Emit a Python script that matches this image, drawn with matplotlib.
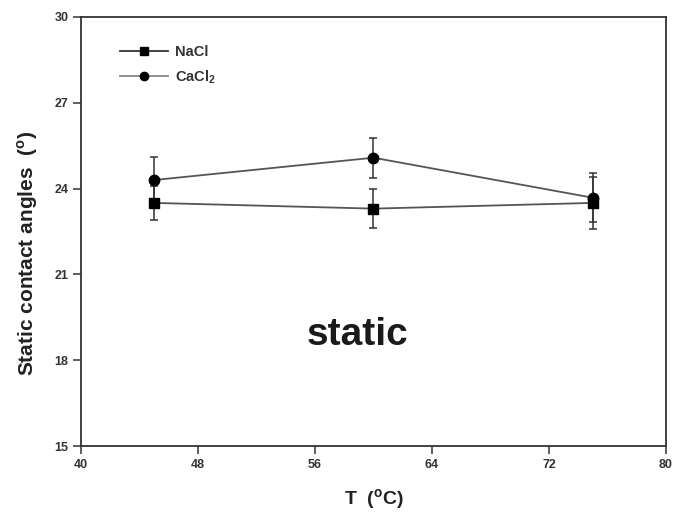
import numpy as np
import matplotlib.pyplot as plt
from matplotlib.lines import Line2D

plt.rcParams['font.family'] = ['Liberation Sans', 'DejaVu Sans']
plt.rcParams['mathtext.fontset'] = 'custom'
plt.rcParams['mathtext.rm'] = 'Liberation Sans:bold'
plt.rcParams['mathtext.bf'] = 'Liberation Sans:bold'

temps = [45, 60, 75]
nacl = [23.5, 23.3, 23.5]
nacl_err = [0.6, 0.68, 0.9]
cacl2 = [24.3, 25.08, 23.68]
cacl2_err = [0.8, 0.7, 0.85]

x_ticks = [40, 48, 56, 64, 72, 80]
y_ticks = [15, 18, 21, 24, 27, 30]

fig = plt.figure(figsize=(6.76, 5.23), dpi=100)
ax = fig.add_axes([0.1198, 0.1472, 0.8654, 0.8203])

ax.errorbar(temps, nacl, yerr=nacl_err, color='#555555', marker='s', ms=7,
            mfc='black', mec='black', lw=1.3, ecolor='#333333', elinewidth=1.1,
            capsize=3, capthick=1.1)
ax.errorbar(temps, cacl2, yerr=cacl2_err, color='#555555', marker='o', ms=7.5,
            mfc='black', mec='black', lw=1.3, ecolor='#333333', elinewidth=1.1,
            capsize=3, capthick=1.1)

ax.set_xlim(40, 80)
ax.set_ylim(15, 30)
ax.set_xticks(x_ticks)
ax.set_yticks(y_ticks)
ax.tick_params(direction='out', length=6, width=1.1, labelsize=9, colors='#333333', pad=3)
for lab in ax.get_xticklabels() + ax.get_yticklabels():
    lab.set_fontweight('bold')
for s in ax.spines.values():
    s.set_linewidth(1.3)
    s.set_color('#333333')

ax.set_xlabel(r'T  ($^\mathrm{o}$C)', fontsize=14, fontweight='bold', color='#222222', labelpad=12)
ax.set_ylabel(r'Static contact angles  ($^\mathrm{o}$)', fontsize=15, fontweight='bold',
              color='#222222')
ax.yaxis.set_label_coords(-0.07, 0.45)

ax.text(0.473, 0.258, 'static', transform=ax.transAxes, fontsize=28, fontweight='bold',
        ha='center', va='center', color='#1a1a1a')

handles = [
    Line2D([], [], color='#333333', lw=1.3, marker='s', ms=5.5, mfc='black', mec='black'),
    Line2D([], [], color='#888888', lw=1.3, marker='o', ms=6, mfc='black', mec='black'),
]
leg = ax.legend(handles, ['NaCl', 'CaCl$_2$'], loc='upper left', bbox_to_anchor=(0.0667, 0.935),
                frameon=False, fontsize=10.5, handlelength=3.3, handletextpad=0.5,
                borderaxespad=0, borderpad=0, labelspacing=0.65)
for t in leg.get_texts():
    t.set_fontweight('bold')
    t.set_color('#333333')

fig.savefig('out.png', dpi=100)
